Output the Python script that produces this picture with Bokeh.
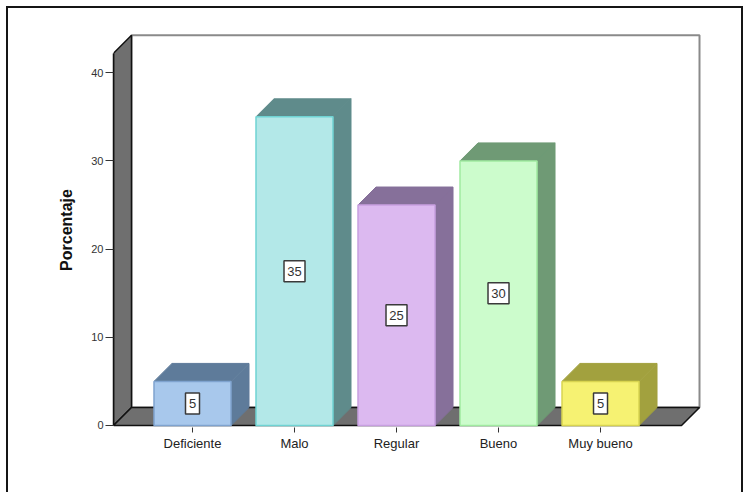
from bokeh.plotting import figure
from bokeh.models import Range1d, FixedTicker
from bokeh.core.properties import value
from bokeh.embed import file_html
from bokeh.resources import INLINE

# Data
categories = ["Deficiente", "Malo", "Regular", "Bueno", "Muy bueno"]
percentages = [5, 35, 25, 30, 5]
y_ticks = [0, 10, 20, 30, 40]

# Bar colours: front face, shaded top/side faces, edge lines
front_colors = ["#a8c8ec", "#b3e8e8", "#dcb9f0", "#ccfccc", "#f6f272"]
shade_colors = ["#5e7b9a", "#5f8b8b", "#86709a", "#6f9a75", "#a2a13e"]
edge_colors = ["#7fa3cf", "#6fd3d3", "#c79fe0", "#a0eaa0", "#d8d450"]

FONT = "Liberation Sans"

# 3D box geometry (category units on x, percent on y)
X_LO, X_HI = -0.7745, 4.794   # front edge of the floor
Y_TOP = 42.2                  # top of the front axis
DX, DY = 0.1765, 2.04         # depth offset of the box
HALF = 0.3775                 # half width of a bar's front face

p = figure(
    frame_width=588, frame_height=395,
    x_range=Range1d(-0.7745, 4.990), y_range=Range1d(-0.2268, 44.56),
    output_backend="svg", toolbar_location=None,
    min_border_left=113, min_border_right=48,
    min_border_top=32, min_border_bottom=65,
)
p.border_fill_color = None
p.background_fill_color = None
p.outline_line_color = None
p.grid.visible = False
p.styles = {
    "background-color": "white",
    "background-image": "linear-gradient(#151515,#151515), linear-gradient(#151515,#151515), linear-gradient(#151515,#151515)",
    "background-size": "2px 486px, 737px 2px, 2px 486px",
    "background-position": "6px 6px, 6px 6px, 741px 6px",
    "background-repeat": "no-repeat",
}

# Back wall
p.quad(left=[X_LO + DX], right=[X_HI + DX], bottom=[DY], top=[Y_TOP + DY],
       fill_color="white", line_color="#8a8a8a", line_width=2)
# Left wall
p.patch([X_LO, X_LO, X_LO + DX, X_LO + DX], [0, Y_TOP, Y_TOP + DY, DY],
        fill_color="#6f6f6f", line_color="#111111", line_width=1.5)
# Floor
p.patch([X_LO, X_HI, X_HI + DX, X_LO + DX], [0, 0, DY, DY],
        fill_color="#6f6f6f", line_color="#111111", line_width=1.5)

# Bars: shaded top and side faces, then the front face
idx = list(range(len(categories)))
top_xs, top_ys, side_xs, side_ys = [], [], [], []
for i, v in zip(idx, percentages):
    l, r = i - HALF, i + HALF
    top_xs.append([l, r, r + DX, l + DX])
    top_ys.append([v, v, v + DY, v + DY])
    side_xs.append([r, r + DX, r + DX, r])
    side_ys.append([0, DY, v + DY, v])

p.patches(top_xs, top_ys, fill_color=shade_colors, line_color=shade_colors, line_width=1)
p.patches(side_xs, side_ys, fill_color=shade_colors, line_color=shade_colors, line_width=1)
p.quad(left=[i - HALF for i in idx], right=[i + HALF for i in idx],
       bottom=0, top=percentages,
       fill_color=front_colors, line_color=edge_colors, line_width=1.5)

# Value labels in boxes at mid-height
label_text = [str(v) for v in percentages]
p.rect(x=idx, y=[v / 2 for v in percentages],
       width=[7 + 7 * len(t) for t in label_text], height=21,
       width_units="screen", height_units="screen",
       fill_color="white", line_color="#3a3a3a", line_width=1.5)
p.text(x=idx, y=[v / 2 for v in percentages], text=label_text,
       text_align="center", text_baseline="middle",
       text_font=value(FONT), text_font_size="13px", text_color="#333333")

# Axes
xa = p.xaxis[0]
xa.ticker = FixedTicker(ticks=idx)
xa.major_label_overrides = {i: c for i, c in zip(idx, categories)}
xa.axis_line_color = None
xa.major_tick_in = 0
xa.major_tick_out = 5
xa.major_tick_line_color = "#333333"
xa.minor_tick_line_color = None
xa.major_label_standoff = 3
xa.major_label_text_font = FONT
xa.major_label_text_font_size = "13px"
xa.major_label_text_color = "#222222"

ya = p.yaxis[0]
ya.ticker = FixedTicker(ticks=y_ticks)
ya.bounds = (0, Y_TOP)
ya.axis_line_color = "#111111"
ya.axis_line_width = 1.5
ya.major_tick_in = 0
ya.major_tick_out = 8
ya.major_tick_line_color = "#333333"
ya.minor_tick_line_color = None
ya.major_label_standoff = 2
ya.major_label_text_font = FONT
ya.major_label_text_font_size = "11px"
ya.major_label_text_color = "#333333"
ya.axis_label = "Porcentaje"
ya.axis_label_text_font = FONT
ya.axis_label_text_font_style = "bold"
ya.axis_label_text_font_size = "16px"
ya.axis_label_text_color = "#111111"
ya.axis_label_standoff = 13

open("out.html", "w").write(file_html(p, INLINE))
